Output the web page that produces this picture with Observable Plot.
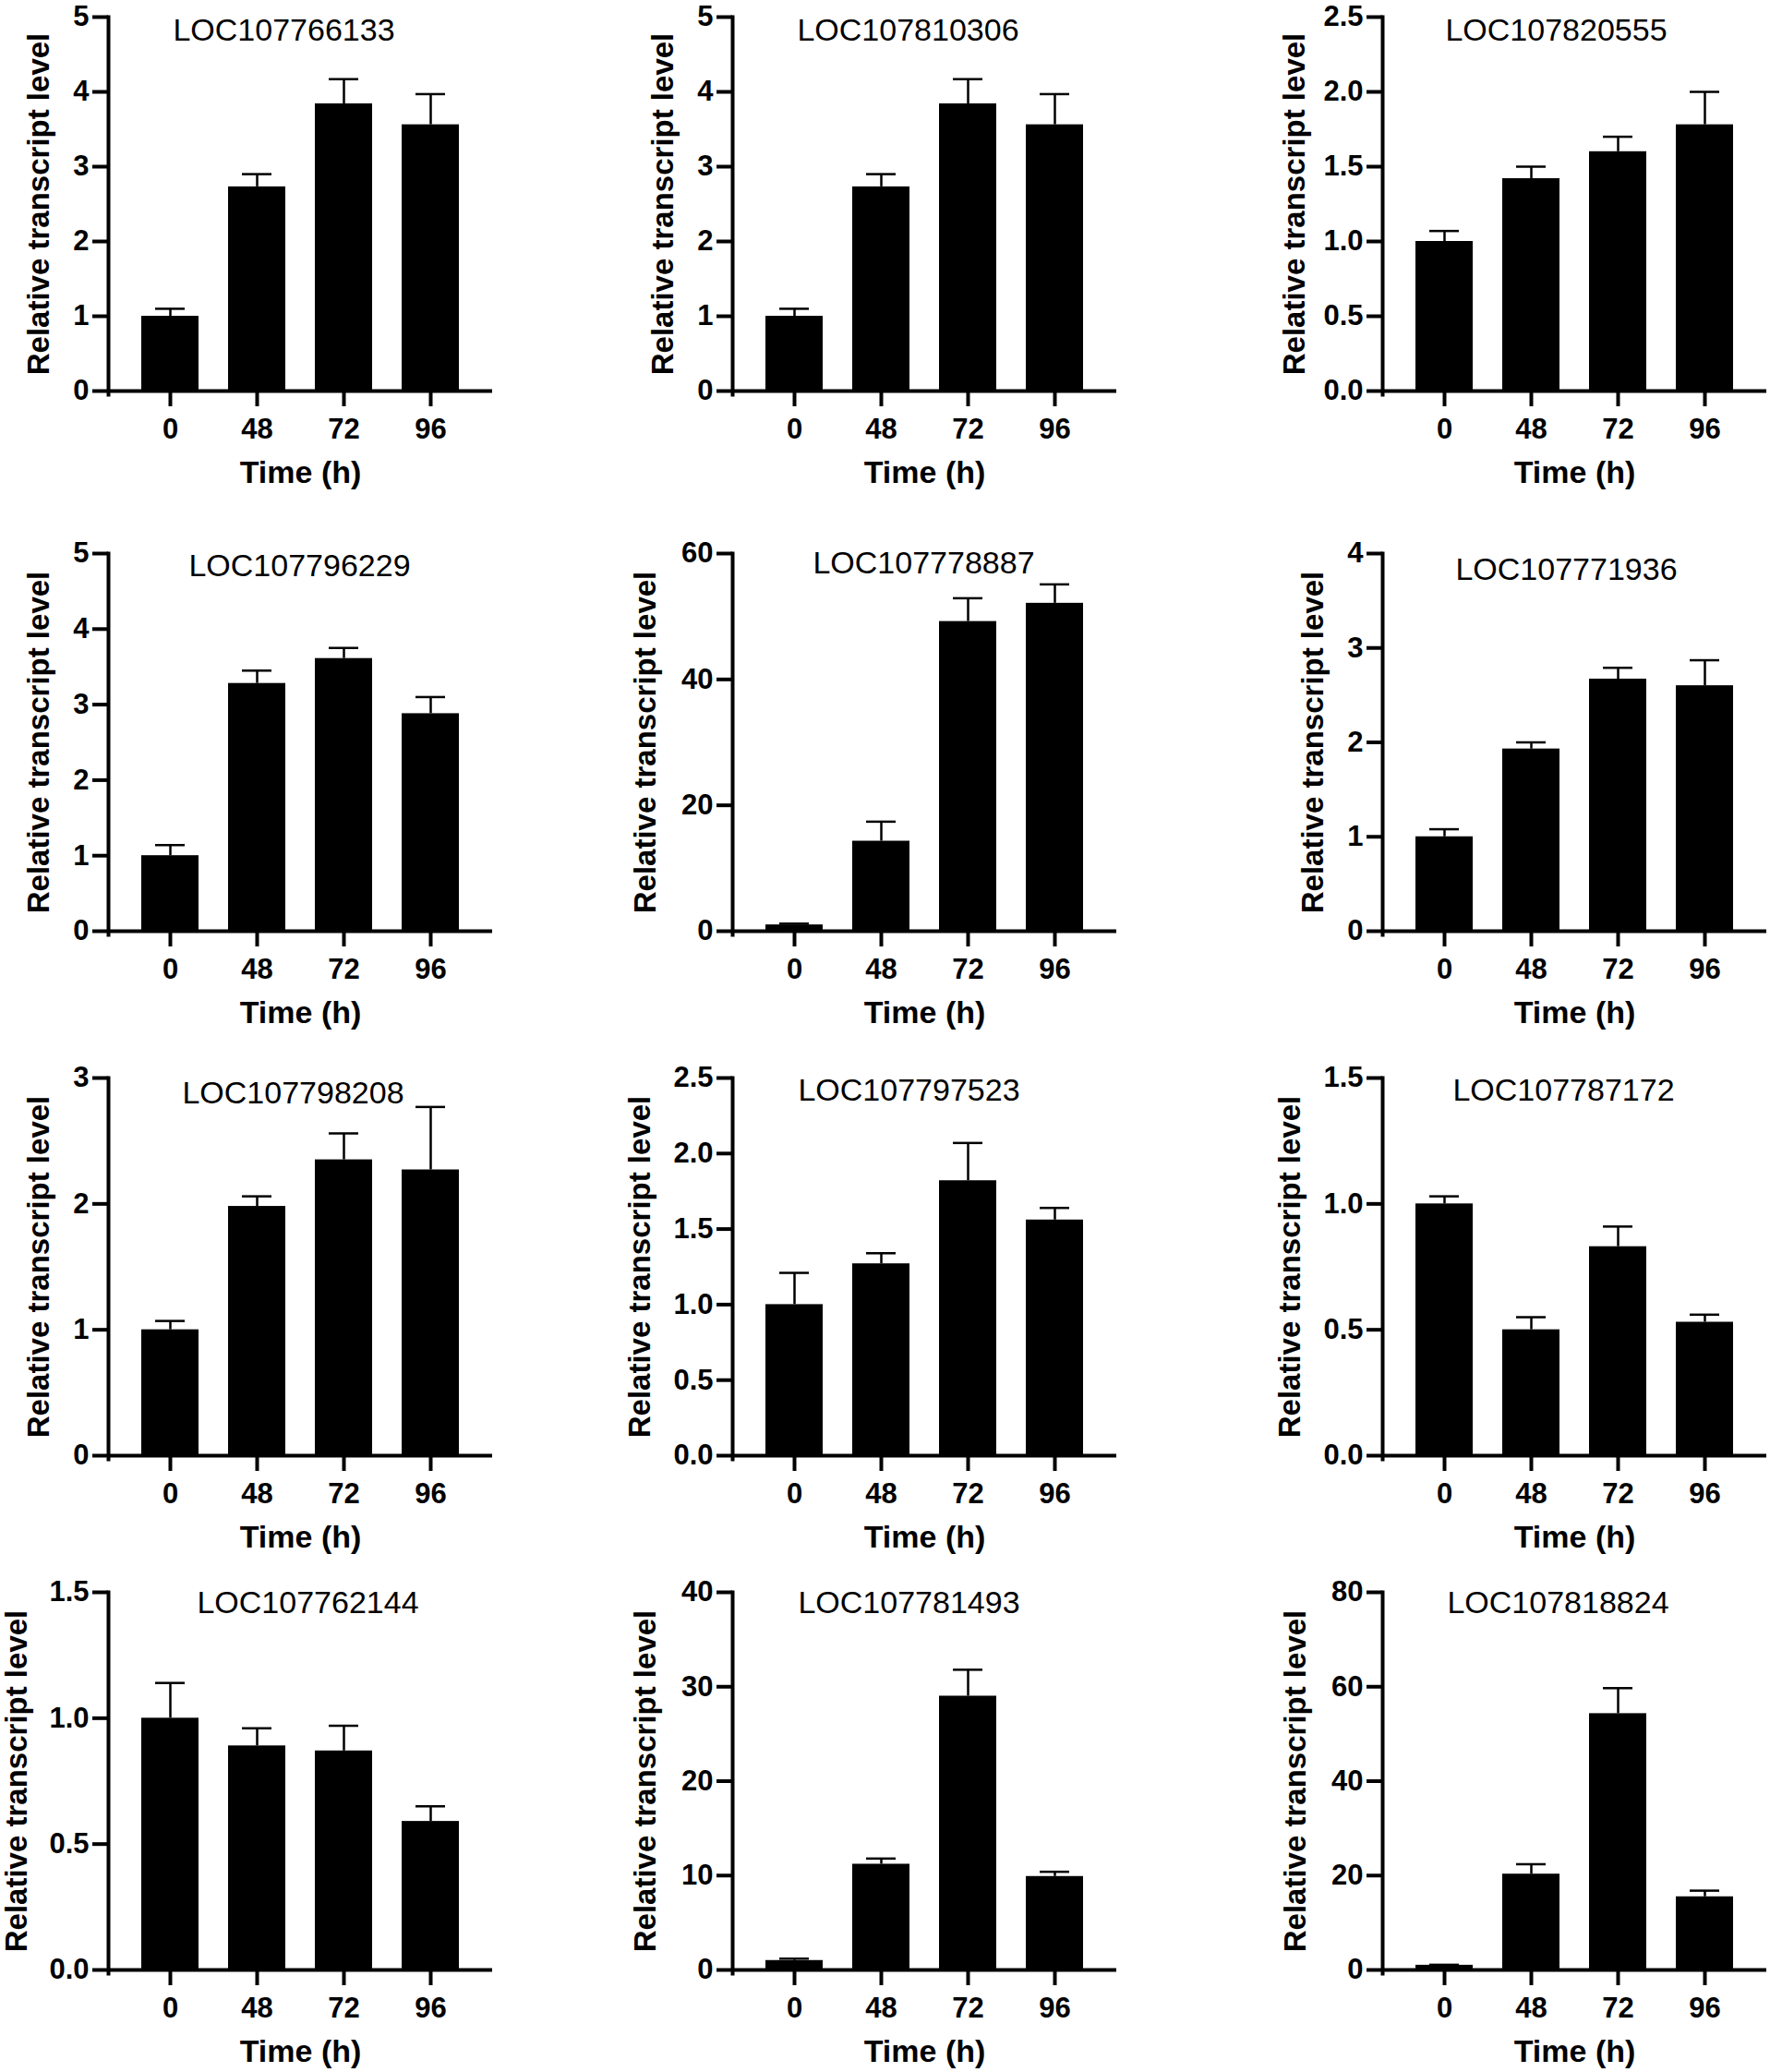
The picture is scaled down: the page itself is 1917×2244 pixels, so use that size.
<!DOCTYPE html>
<html><head><meta charset="utf-8">
<script src="https://cdn.jsdelivr.net/npm/d3@7"></script>
<script src="https://cdn.jsdelivr.net/npm/@observablehq/plot@0.6"></script>
<style>
html,body{margin:0;padding:0;background:#fff;}
#wrap{position:relative;width:1917px;height:2244px;overflow:hidden;background:#fff;}
.panel{position:absolute;}
</style></head><body><div id="wrap"></div>
<script>
// ---- data ----
const times = ["0", "48", "72", "96"];
const genes = [
  "LOC107766133", "LOC107810306", "LOC107820555",
  "LOC107796229", "LOC107778887", "LOC107771936",
  "LOC107798208", "LOC107797523", "LOC107787172",
  "LOC107762144", "LOC107781493", "LOC107818824"
];
const means = [
  [1.0, 2.73, 3.84, 3.56],
  [1.0, 2.73, 3.84, 3.56],
  [1.0, 1.42, 1.60, 1.78],
  [1.0, 3.28, 3.61, 2.88],
  [1.0, 14.3, 49.2, 52.1],
  [1.0, 1.93, 2.67, 2.60],
  [1.0, 1.98, 2.35, 2.27],
  [1.0, 1.27, 1.82, 1.56],
  [1.0, 0.50, 0.83, 0.53],
  [1.0, 0.89, 0.87, 0.59],
  [1.0, 11.2, 29.0, 9.9],
  [1.0, 20.3, 54.3, 15.5]
];
const errors = [
  [0.10, 0.17, 0.33, 0.41],
  [0.10, 0.17, 0.33, 0.41],
  [0.07, 0.08, 0.10, 0.22],
  [0.14, 0.17, 0.14, 0.22],
  [0.2, 3.1, 3.7, 3.0],
  [0.08, 0.07, 0.12, 0.27],
  [0.07, 0.08, 0.21, 0.50],
  [0.21, 0.07, 0.25, 0.08],
  [0.03, 0.05, 0.08, 0.03],
  [0.14, 0.07, 0.10, 0.06],
  [0.2, 0.6, 2.8, 0.5],
  [0.1, 2.1, 5.4, 1.3]
];
const yMax  = [5, 5, 2.5, 5, 60, 4, 3, 2.5, 1.5, 1.5, 40, 80];
const yStep = [1, 1, 0.5, 1, 20, 1, 1, 0.5, 0.5, 0.5, 10, 20];
const yLabel = "Relative transcript level";
const xLabel = "Time (h)";

// ---- layout (styles / positions) ----
const colX = [117, 793, 1497];
const rowY = [18, 599, 1167, 1724];
const rowH = [405, 409, 409, 409];
const FW = 416;
const ML = 117, MR = 4, MT = 18, MB = 110;
const titleDx = [-18, -18, -20, -1, -1, -9, -8, -17, -12, 8, -17, -18];
const titleDy = [15, 15, 15, 14, 11, 18, 17, 14, 14, 12, 12, 12];
const yLabelDx = [-75, -75, -95, -75, -94, -75, -75, -100, -100, -99, -94, -94];

const wrap = document.getElementById("wrap");
genes.forEach((g, i) => {
  const col = i % 3, row = Math.floor(i / 3);
  const FH = rowH[row];
  const data = times.map((t, j) => ({t, v: means[i][j], hi: means[i][j] + errors[i][j]}));
  const ticks = d3.range(0, yMax[i] + yStep[i] / 2, yStep[i]);
  const fmt = yStep[i] < 1 ? d3.format(".1f") : d3.format("d");
  const svg = Plot.plot({
    width: ML + FW + MR,
    height: MT + FH + MB,
    marginLeft: ML, marginRight: MR, marginTop: MT, marginBottom: MB,
    style: {fontFamily: "'Liberation Sans', Arial, sans-serif", color: "#000", background: "#fff", overflow: "visible"},
    x: {domain: times, paddingInner: 0.34, paddingOuter: 0.36, align: 0.5},
    y: {domain: [0, yMax[i]]},
    marks: [
      Plot.barY(data, {x: "t", y: "v", fill: "#000"}),
      Plot.ruleX(data, {x: "t", y1: "v", y2: "hi", stroke: "#000", strokeWidth: 2.5}),
      Plot.tickY(data, {x: "t", y: "hi", stroke: "#000", strokeWidth: 2.5, insetLeft: 15, insetRight: 15}),
      Plot.ruleY([0], {stroke: "#000", strokeWidth: 4}),
      Plot.frame({anchor: "left", stroke: "#000", strokeWidth: 4, insetBottom: -4}),
      Plot.axisY({ticks, tickFormat: fmt, tickSize: 17, tickPadding: 4, fontSize: 31, fontWeight: "bold", strokeWidth: 4, label: null}),
      Plot.axisX({tickSize: 17, tickPadding: 12, fontSize: 31, fontWeight: "bold", strokeWidth: 4, label: null}),
      Plot.text([g], {text: d => d, frameAnchor: "top", dx: titleDx[i], dy: titleDy[i], fontSize: 34, textAnchor: "middle", lineAnchor: "middle", fill: "#000"}),
      Plot.text([yLabel], {text: d => d, frameAnchor: "left", rotate: -90, dx: yLabelDx[i], fontSize: 33, fontWeight: "bold", textAnchor: "middle", lineAnchor: "middle", fill: "#000"}),
      Plot.text([xLabel], {text: d => d, frameAnchor: "bottom", dy: 89, fontSize: 34, fontWeight: "bold", textAnchor: "middle", lineAnchor: "middle", fill: "#000"})
    ]
  });
  const div = document.createElement("div");
  div.className = "panel";
  div.style.left = (colX[col] - ML) + "px";
  div.style.top = (rowY[row] - MT) + "px";
  div.appendChild(svg);
  wrap.appendChild(div);
});
</script>
</body></html>
